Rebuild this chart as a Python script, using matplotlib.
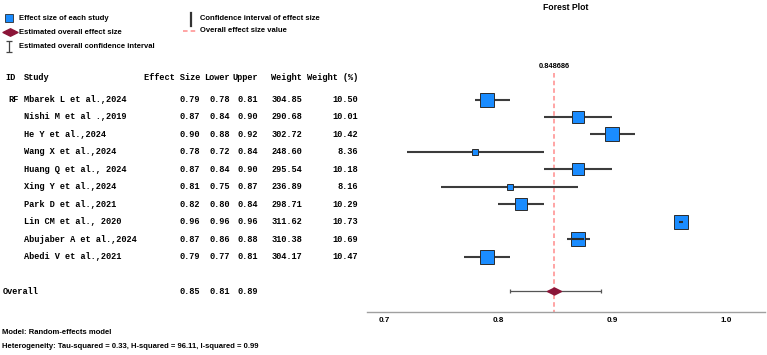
import numpy as np
import matplotlib.pyplot as plt
from matplotlib.path import Path
from matplotlib.transforms import blended_transform_factory

# ---- data ----
studies = ["Mbarek L et al.,2024", "Nishi M et al .,2019", "He Y et al.,2024",
           "Wang X et al.,2024", "Huang Q et al., 2024", "Xing Y et al.,2024",
           "Park D et al.,2021", "Lin CM et al., 2020", "Abujaber A et al.,2024",
           "Abedi V et al.,2021"]
effect = [0.79, 0.87, 0.90, 0.78, 0.87, 0.81, 0.82, 0.96, 0.87, 0.79]
lower = [0.78, 0.84, 0.88, 0.72, 0.84, 0.75, 0.80, 0.96, 0.86, 0.77]
upper = [0.81, 0.90, 0.92, 0.84, 0.90, 0.87, 0.84, 0.96, 0.88, 0.81]
weight = [304.85, 290.68, 302.72, 248.60, 295.54, 236.89, 298.71, 311.62, 310.38, 304.17]
weight_pct = [10.50, 10.01, 10.42, 8.36, 10.18, 8.16, 10.29, 10.73, 10.69, 10.47]
overall_es = 0.848686
overall_lo = 0.81
overall_hi = 0.89
xticks = [0.7, 0.8, 0.9, 1.0]
header = ["ID", "Study", "Effect Size", "Lower", "Upper", "Weight", "Weight (%)"]
model_txt = "Model: Random-effects model"
het_txt = "Heterogeneity: Tau-squared = 0.33, H-squared = 96.11, I-squared = 0.99"

sans = ["Liberation Sans", "DejaVu Sans"]
mono = ["Liberation Mono", "DejaVu Sans Mono"]
blue = "#1a8cff"
dred = "#8b1538"
pink = "#ff8c8c"

W, H = 767, 355
fig = plt.figure(figsize=(W / 100, H / 100), dpi=100)

def fx(px):
    return px / W

def fy(py):
    return 1 - py / H

# pixel rows
row0, rstep = 99.5, 17.45
def row_of(py):
    return (py - row0) / rstep

ax = fig.add_axes([fx(367), fy(312), fx(765) - fx(367), fy(60) - fy(312)])
ax.set_xlim(0.6851, 1.0336)
ax.set_ylim(row_of(312), row_of(60))

# overlay in pixel coords for legend / free text
lg = fig.add_axes([0, 0, 1, 1], zorder=-1)
lg.set_xlim(0, W)
lg.set_ylim(H, 0)
lg.axis("off")

diamond = Path([(-1, 0), (0, 0.5), (1, 0), (0, -0.5), (-1, 0)],
               [Path.MOVETO, Path.LINETO, Path.LINETO, Path.LINETO, Path.CLOSEPOLY])

rows = np.arange(len(studies))
overall_row = len(studies) + 1

px_per_unit = (765 - 367) / (1.0336 - 0.6851)
wmin, wmax = min(weight_pct), max(weight_pct)
box_px = [6 + (w - wmin) / (wmax - wmin) * 8 for w in weight_pct]

# CI lines under boxes
ax.hlines(rows, lower, upper, color="#3c3c3c", lw=1.5, zorder=2)
for r, es, lo, hi, b in zip(rows, effect, lower, upper, box_px):
    ax.plot(es, r, marker="s", ms=b * 0.72, mfc=blue, mec="#2b2b2b", mew=0.7, zorder=3)
    # narrow intervals stay visible over the box
    half = (hi - lo) / 2 * px_per_unit
    if half < b:
        hw = max(min(half, b / 2 - 1), 1.8) / px_per_unit
        ax.plot([es - hw, es + hw], [r, r], color="#2b2b2b", lw=1.5, zorder=4,
                solid_capstyle="butt")

# overall
ax.vlines(overall_es, row_of(73), row_of(312), colors=pink, linestyles=(0, (3, 2)),
          lw=1.1, zorder=1)
ax.errorbar(overall_es, overall_row,
            xerr=[[overall_es - overall_lo], [overall_hi - overall_es]],
            fmt="none", ecolor="#555555", elinewidth=0.9, capsize=1.6, capthick=0.9, zorder=2)
ax.plot(overall_es, overall_row, marker=diamond, ms=14 * 0.72, color=dred, zorder=3)
ax.text(overall_es, row_of(66), f"{overall_es:.6f}", ha="center", va="center",
        fontsize=5.4, fontweight="bold", family=sans)

for s in ["top", "right", "left"]:
    ax.spines[s].set_visible(False)
ax.spines["bottom"].set_color("#a0a0a0")
ax.spines["bottom"].set_linewidth(1.0)
ax.set_yticks([])
ax.set_xticks(xticks)
ax.set_xticklabels([f"{t:.1f}" for t in xticks], fontsize=5.8, fontweight="bold",
                   family=sans)
ax.tick_params(axis="x", length=0, pad=3.5)
ax.patch.set_visible(False)

fig.text(fx(566), fy(7), "Forest Plot", ha="center", va="center", fontsize=6.2,
         fontweight="bold", family=sans)

# ---- table ----
tb = blended_transform_factory(lg.transData, ax.transData)
tkw = dict(transform=tb, va="center", fontsize=6.2, fontweight="bold", family=mono,
           clip_on=False)
hx = [(5, "left"), (24, "left"), (200, "right"), (230, "right"), (258, "right"),
      (302, "right"), (358, "right")]
for (x, ha), h in zip(hx, header):
    ax.text(x, -1.25, h, ha=ha, **tkw)
ax.text(8, 0, "RF", ha="left", **tkw)
for r, name, es, lo, hi, w, wp in zip(rows, studies, effect, lower, upper, weight, weight_pct):
    ax.text(24, r, name, ha="left", **tkw)
    ax.text(200, r, f"{es:.2f}", ha="right", **tkw)
    ax.text(230, r, f"{lo:.2f}", ha="right", **tkw)
    ax.text(258, r, f"{hi:.2f}", ha="right", **tkw)
    ax.text(302, r, f"{w:.2f}", ha="right", **tkw)
    ax.text(358, r, f"{wp:.2f}", ha="right", **tkw)
ax.text(3, overall_row, "Overall", ha="left", **tkw)
ax.text(200, overall_row, f"{overall_es:.2f}", ha="right", **tkw)
ax.text(230, overall_row, f"{overall_lo:.2f}", ha="right", **tkw)
ax.text(258, overall_row, f"{overall_hi:.2f}", ha="right", **tkw)

# ---- legend ----
lkw = dict(va="center", ha="left", fontsize=5.5, fontweight="bold", family=sans)
lg.plot(9, 18, marker="s", ms=8 * 0.72, mfc=blue, mec="#2b2b2b", mew=0.6)
lg.text(19, 18.5, "Effect size of each study", **lkw)
lg.plot(9.5, 32, marker=diamond, ms=15 * 0.72, color=dred)
lg.text(19, 32.5, "Estimated overall effect size", **lkw)
lg.errorbar(9, 46.5, yerr=5.5, fmt="none", ecolor="#444444", elinewidth=0.9,
            capsize=2.2, capthick=0.9)
lg.text(19, 47, "Estimated overall confidence interval", **lkw)
lg.plot([191, 191], [13, 26], color="#333333", lw=1.6)
lg.text(200, 19, "Confidence interval of effect size", **lkw)
lg.plot([183, 197], [31, 31], color=pink, ls=(0, (3, 2)), lw=1.1)
lg.text(200, 31, "Overall effect size value", **lkw)

bkw = dict(va="center", ha="left", fontsize=5.5, fontweight="bold", family=sans)
lg.text(2, 333, model_txt, **bkw)
lg.text(2, 346, het_txt, **bkw)

fig.savefig("out.png", dpi=100)
